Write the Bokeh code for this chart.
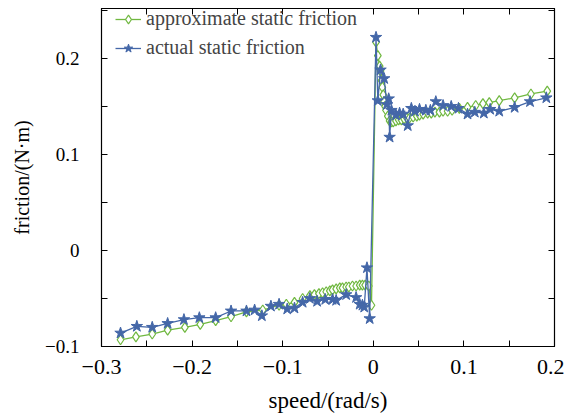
from bokeh.plotting import figure
from bokeh.models import FixedTicker, LinearAxis, Range1d
from bokeh.embed import file_html
from bokeh.resources import INLINE

x_approx = [-0.279, -0.262, -0.244, -0.227, -0.208, -0.191, -0.174, -0.157, -0.140, -0.122,
            -0.104, -0.096, -0.087, -0.078, -0.070, -0.065, -0.060, -0.056, -0.052, -0.048,
            -0.045, -0.041, -0.037, -0.034, -0.030, -0.027, -0.023, -0.019, -0.015, -0.012,
            -0.009, -0.005, -0.002, 0.003, 0.005, 0.007, 0.008, 0.009, 0.010, 0.011,
            0.012, 0.013, 0.014, 0.016, 0.018, 0.020, 0.022, 0.025, 0.028, 0.031,
            0.034, 0.037, 0.040, 0.044, 0.048, 0.051, 0.055, 0.060, 0.064, 0.068,
            0.073, 0.077, 0.082, 0.087, 0.095, 0.104, 0.113, 0.121, 0.128, 0.139,
            0.156, 0.174, 0.192]
y_approx = [-0.093, -0.090, -0.087, -0.083, -0.080, -0.077, -0.073, -0.069, -0.064, -0.062,
            -0.057, -0.056, -0.054, -0.050, -0.047, -0.046, -0.045, -0.044, -0.043, -0.042,
            -0.041, -0.040, -0.039, -0.039, -0.038, -0.038, -0.037, -0.037, -0.036, -0.036,
            -0.036, -0.037, -0.057, 0.217, 0.203, 0.192, 0.187, 0.177, 0.170, 0.162,
            0.155, 0.150, 0.146, 0.140, 0.135, 0.134, 0.134, 0.135, 0.136, 0.136,
            0.137, 0.138, 0.138, 0.139, 0.140, 0.141, 0.142, 0.143, 0.143, 0.144,
            0.144, 0.145, 0.145, 0.146, 0.148, 0.149, 0.151, 0.153, 0.154, 0.156,
            0.159, 0.163, 0.166]

x_actual = [-0.279, -0.261, -0.244, -0.227, -0.209, -0.192, -0.174, -0.157, -0.140, -0.131,
            -0.123, -0.113, -0.104, -0.095, -0.087, -0.078, -0.070, -0.062, -0.053, -0.045,
            -0.041, -0.030, -0.019, -0.015, -0.012, -0.010, -0.007, -0.004, 0.003, 0.005,
            0.008, 0.012, 0.015, 0.017, 0.018, 0.020, 0.025, 0.029, 0.033, 0.038,
            0.042, 0.046, 0.051, 0.058, 0.063, 0.069, 0.077, 0.086, 0.094, 0.104,
            0.112, 0.122, 0.129, 0.139, 0.156, 0.173, 0.191]
y_actual = [-0.086, -0.079, -0.080, -0.076, -0.072, -0.070, -0.070, -0.063, -0.063, -0.062,
            -0.068, -0.058, -0.056, -0.061, -0.060, -0.054, -0.050, -0.053, -0.051, -0.051,
            -0.052, -0.046, -0.049, -0.056, -0.057, -0.059, -0.018, -0.071, 0.222, 0.156,
            0.188, 0.179, 0.152, 0.158, 0.118, 0.146, 0.141, 0.143, 0.142, 0.130,
            0.148, 0.145, 0.147, 0.146, 0.146, 0.155, 0.151, 0.150, 0.148, 0.142,
            0.144, 0.143, 0.147, 0.145, 0.149, 0.155, 0.159]

x_ticks = [-0.3, -0.2, -0.1, 0.0, 0.1, 0.2]
x_minor = [-0.25, -0.15, -0.05, 0.05, 0.15]
x_labels = ["\u22120.3", "\u22120.2", "\u22120.1", "0", "0.1", "0.2"]
y_ticks = [-0.1, 0.0, 0.1, 0.2]
y_minor = [-0.05, 0.05, 0.15, 0.25]
y_labels = ["\u22120.1", "0", "0.1", "0.2"]

GREEN = "#70b840"
BLUE = "#4467a8"
FONT = "Liberation Serif"

FW, FH = 453, 338
p = figure(frame_width=FW, frame_height=FH, output_backend="svg", toolbar_location=None,
           x_range=Range1d(-0.3, 0.2), y_range=Range1d(-0.1, 0.252),
           min_border_left=101, min_border_right=10, min_border_top=8, min_border_bottom=60)
p.grid.visible = False
p.background_fill_color = "white"
p.outline_line_color = "black"
p.outline_line_width = 1.2

p.line(x_approx, y_approx, color=GREEN, line_width=1.3, legend_label="approximate static friction")
p.scatter(x_approx, y_approx, marker="diamond", size=10, line_color=GREEN, fill_color="white",
          line_width=1.2, legend_label="approximate static friction")
p.line(x_actual, y_actual, color=BLUE, line_width=1.3, legend_label="actual static friction")
p.scatter(x_actual, y_actual, marker="star", size=12, line_color=BLUE, fill_color=BLUE,
          legend_label="actual static friction")


def style_axis(ax, ticks, minor, labels, show_labels=True, size="18px"):
    ax.ticker = FixedTicker(ticks=ticks, minor_ticks=minor)
    ax.major_tick_in = 6
    ax.major_tick_out = 0
    ax.minor_tick_in = 6
    ax.minor_tick_out = 0
    ax.axis_line_color = "black"
    ax.major_tick_line_color = "black"
    ax.minor_tick_line_color = "black"
    if show_labels:
        ax.major_label_overrides = {t: l for t, l in zip(ticks, labels)}
        ax.major_label_text_font = FONT
        ax.major_label_text_font_size = size
        ax.major_label_text_color = "black"
    else:
        ax.major_label_overrides = {t: "" for t in ticks}
        ax.major_label_standoff = 0


style_axis(p.xaxis[0], x_ticks, x_minor, x_labels, size="22px")
style_axis(p.yaxis[0], y_ticks, y_minor, y_labels, size="19px")
p.xaxis[0].major_label_standoff = 13
p.yaxis[0].major_label_standoff = 22
p.xaxis[0].axis_label = "speed/(rad/s)"
p.yaxis[0].axis_label = "friction/(N\u00b7m)"
for ax in (p.xaxis[0], p.yaxis[0]):
    ax.axis_label_text_font = FONT
    ax.axis_label_text_font_style = "normal"
    ax.axis_label_text_color = "black"
p.xaxis[0].axis_label_text_font_size = "23px"
p.yaxis[0].axis_label_text_font_size = "20px"
p.xaxis[0].axis_label_standoff = 11
p.yaxis[0].axis_label_standoff = 9

top = LinearAxis()
style_axis(top, x_ticks, x_minor, x_labels, show_labels=False)
p.add_layout(top, "above")
right = LinearAxis()
style_axis(right, y_ticks, y_minor, y_labels, show_labels=False)
p.add_layout(right, "right")

p.legend.location = (14, FH - 51)
p.legend.border_line_color = None
p.legend.background_fill_alpha = 0
p.legend.label_text_font = FONT
p.legend.label_text_font_size = "20px"
p.legend.label_height = 22
p.legend.glyph_height = 22
p.legend.glyph_width = 26
p.legend.label_standoff = 5
p.legend.spacing = 6
p.legend.padding = 0
p.legend.margin = 0

open("out.html", "w").write(file_html(p, INLINE))
